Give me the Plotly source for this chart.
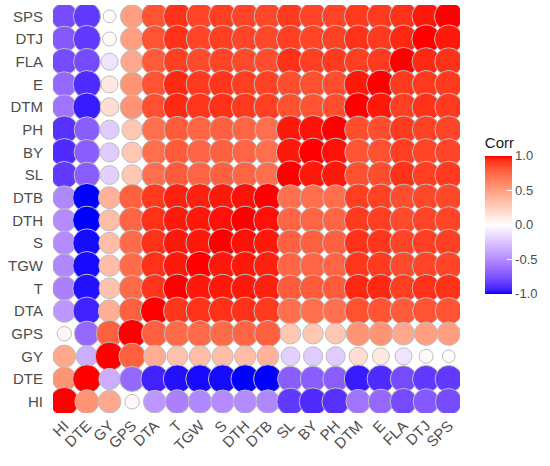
import numpy as np
import plotly.graph_objects as go

variables = ["HI", "DTE", "GY", "GPS", "DTA", "T", "TGW", "S", "DTH", "DTB",
             "SL", "BY", "PH", "DTM", "E", "FLA", "DTJ", "SPS"]

# lower-triangle rows of the correlation matrix (row variable vs. earlier variables)
r_HI = [1]
r_DTE = [0.55, 1]
r_GY = [0.45, -0.35, 1]
r_GPS = [0.04, -0.65, 0.78, 1]
r_DTA = [-0.45, -0.93, 0.42, 0.78, 1]
r_T = [-0.55, -0.97, 0.32, 0.74, 0.92, 1]
r_TGW = [-0.52, -0.98, 0.35, 0.74, 0.93, 0.97, 1]
r_S = [-0.50, -0.98, 0.35, 0.74, 0.93, 0.97, 0.97, 1]
r_DTH = [-0.50, -1.00, 0.35, 0.76, 0.93, 0.97, 0.97, 0.98, 1]
r_DTB = [-0.52, -1.00, 0.40, 0.78, 0.91, 0.96, 0.96, 0.97, 0.98, 1]
r_SL = [-0.85, -0.70, -0.20, 0.30, 0.72, 0.80, 0.76, 0.78, 0.76, 0.72, 1]
r_BY = [-0.90, -0.70, -0.22, 0.30, 0.72, 0.80, 0.76, 0.78, 0.76, 0.72, 0.97, 1]
r_PH = [-0.88, -0.70, -0.22, 0.30, 0.72, 0.80, 0.76, 0.78, 0.76, 0.72, 0.97, 0.98, 1]
r_DTM = [-0.60, -0.95, 0.18, 0.55, 0.84, 0.95, 0.92, 0.93, 0.91, 0.90, 0.84, 0.83, 0.85, 1]
r_E = [-0.65, -0.90, 0.12, 0.55, 0.83, 0.95, 0.91, 0.92, 0.90, 0.89, 0.85, 0.84, 0.85, 0.97, 1]
r_FLA = [-0.78, -0.78, -0.12, 0.45, 0.80, 0.90, 0.86, 0.88, 0.86, 0.85, 0.93, 0.90, 0.91, 0.90, 0.91, 1]
r_DTJ = [-0.72, -0.85, 0.03, 0.50, 0.83, 0.93, 0.88, 0.90, 0.88, 0.87, 0.90, 0.88, 0.89, 0.93, 0.91, 0.95, 1]
r_SPS = [-0.78, -0.85, 0.01, 0.50, 0.83, 0.93, 0.88, 0.90, 0.88, 0.87, 0.91, 0.88, 0.88, 0.91, 0.91, 0.93, 0.97, 1]

lower_rows = [r_HI, r_DTE, r_GY, r_GPS, r_DTA, r_T, r_TGW, r_S, r_DTH, r_DTB,
              r_SL, r_BY, r_PH, r_DTM, r_E, r_FLA, r_DTJ, r_SPS]

n = len(variables)
corr = np.zeros((n, n))
for i, row in enumerate(lower_rows):
    for j, v in enumerate(row):
        corr[i, j] = v
        corr[j, i] = v

# --- Lab-interpolated blue-white-red scale (like ggplot's gradient2) ---
def srgb_to_lin(c):
    c = np.asarray(c, dtype=float) / 255.0
    return np.where(c <= 0.04045, c / 12.92, ((c + 0.055) / 1.055) ** 2.4)

def lin_to_srgb(c):
    c = np.clip(c, 0, 1)
    return np.where(c <= 0.0031308, 12.92 * c, 1.055 * c ** (1 / 2.4) - 0.055) * 255

M = np.array([[0.4124, 0.3576, 0.1805], [0.2126, 0.7152, 0.0722], [0.0193, 0.1192, 0.9505]])
Minv = np.linalg.inv(M)
WP = np.array([0.95047, 1.0, 1.08883])

def rgb_to_lab(rgb):
    xyz = M @ srgb_to_lin(rgb) / WP
    f = np.where(xyz > 0.008856, np.cbrt(xyz), 7.787 * xyz + 16 / 116)
    return np.array([116 * f[1] - 16, 500 * (f[0] - f[1]), 200 * (f[1] - f[2])])

def lab_to_rgb(lab):
    fy = (lab[0] + 16) / 116
    fx = fy + lab[1] / 500
    fz = fy - lab[2] / 200
    f = np.array([fx, fy, fz])
    xyz = np.where(f ** 3 > 0.008856, f ** 3, (f - 16 / 116) / 7.787) * WP
    return lin_to_srgb(Minv @ xyz)

lab_blue = rgb_to_lab([0, 0, 255])
lab_white = rgb_to_lab([255, 255, 255])
lab_red = rgb_to_lab([255, 0, 0])
colorscale = []
for t in np.linspace(0, 1, 41):
    if t <= 0.5:
        lab = lab_blue + (lab_white - lab_blue) * (t / 0.5)
    else:
        lab = lab_white + (lab_red - lab_white) * ((t - 0.5) / 0.5)
    r, g, b = lab_to_rgb(lab)
    colorscale.append([float(t), f"rgb({int(round(r))},{int(round(g))},{int(round(b))})"])

# points drawn top row first, left to right
xs, ys, vals = [], [], []
for i in range(n - 1, -1, -1):
    for j in range(n):
        xs.append(j)
        ys.append(i)
        vals.append(corr[i, j])
vals = np.array(vals)
sizes = 11 + 17.5 * np.sqrt(np.abs(vals))

fig = go.Figure(go.Scatter(
    x=xs, y=ys, mode="markers",
    marker=dict(size=sizes, sizemode="diameter", color=vals, cmin=-1, cmax=1,
                opacity=1,
                colorscale=colorscale,
                line=dict(color="#BEBEBE", width=1),
                colorbar=dict(
                    title=dict(text="Corr", side="top",
                               font=dict(family="Liberation Sans, Arial", size=15, color="#1a1a1a")),
                    thickness=27, len=160, lenmode="pixels",
                    x=1.061, xanchor="left", xpad=0,
                    y=0.488, yanchor="middle", ypad=0,
                    tickvals=[-1, -0.5, 0, 0.5, 1],
                    ticktext=["-1.0", "-0.5", "0.0", "0.5", "1.0"],
                    ticks="inside", ticklen=5, tickcolor="white",
                    outlinewidth=0,
                    tickfont=dict(family="Liberation Sans, Arial", size=13, color="#4d4d4d"))),
    cliponaxis=True, hoverinfo="skip", showlegend=False))

fig.update_layout(
    width=550, height=466,
    margin=dict(l=53, r=90, t=5, b=53),
    paper_bgcolor="white", plot_bgcolor="white",
    font=dict(family="Liberation Sans, Arial", color="#4d4d4d"),
    xaxis=dict(range=[-0.5, n - 0.5], tickvals=list(range(n)), ticktext=variables,
               tickangle=-45, showgrid=False, zeroline=False, showline=False,
               automargin=False,
               tickfont=dict(size=15, color="#4d4d4d"), fixedrange=True),
    yaxis=dict(range=[-0.5, n - 0.5], tickvals=list(range(n)), ticktext=variables,
               showgrid=False, zeroline=False, showline=False,
               automargin=False,
               tickfont=dict(size=15, color="#4d4d4d"), fixedrange=True,
               ticklabelstandoff=9),
)

fig.write_html("out.html", config={"displayModeBar": False},
               post_script="document.body.style.margin='0';")
